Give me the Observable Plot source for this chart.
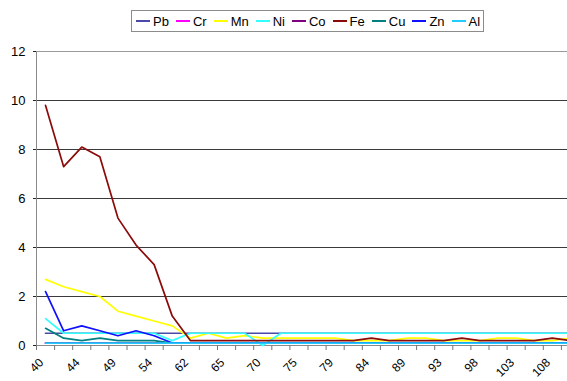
<!DOCTYPE html>
<html>
<head>
<meta charset="utf-8">
<script src="https://cdn.jsdelivr.net/npm/d3@7"></script>
<script src="https://cdn.jsdelivr.net/npm/@observablehq/plot@0.6"></script>
<style>
  body { margin: 0; background: #fff; overflow: hidden; font-family: "Liberation Sans", Arial, sans-serif; }
  #wrap { position: relative; width: 567px; height: 381px; }
  #legend {
    position: absolute; left: 131px; top: 10px; height: 20px;
    border: 1px solid #8c8c8c; background: #fff;
    display: flex; align-items: center; padding: 0 3px 0 4px;
    font-size: 13px; color: #000;
  }
  .item { display: flex; align-items: center; margin-right: 7px; }
  .item:last-child { margin-right: 0; }
  .sw { width: 14px; height: 0; border-top: 2px solid; margin-right: 3px; }
</style>
</head>
<body>
<div id="wrap"><div id="legend"></div></div>
<script>
// Sampling depths (category axis); only every other one is labelled
const depths = ["40","42","44","47","49","52","54","58","62","64","65","68","70","73","75",
                "77","79","82","84","87","89","91","93","96","98","101","103","106","108","110"];

// Concentrations per element, one value per depth
const Pb = [0.5,0.5,0.5,0.5,0.5,0.5,0.5,0.5,0.5,0.5,0.5,0.5,0.5,0.5,0.5,
            0.5,0.5,0.5,0.5,0.5,0.5,0.5,0.5,0.5,0.5,0.5,0.5,0.5,0.5,0.5];
const Cr = [0.1,0.1,0.1,0.1,0.1,0.1,0.1,0.1,0.1,0.1,0.1,0.1,0.1,0.1,0.1,
            0.1,0.1,0.1,0.1,0.1,0.1,0.1,0.1,0.1,0.1,0.1,0.1,0.1,0.1,0.1];
const Mn = [2.7,2.4,2.2,2.0,1.4,1.2,1.0,0.8,0.3,0.5,0.3,0.4,0.3,0.3,0.3,
            0.3,0.3,0.2,0.2,0.2,0.3,0.3,0.2,0.2,0.2,0.3,0.3,0.2,0.2,0.3];
const Ni = [1.1,0.5,0.5,0.5,0.5,0.5,0.5,0.2,0.5,0.5,0.5,0.5,0.0,0.5,0.5,
            0.5,0.5,0.5,0.5,0.5,0.5,0.5,0.5,0.5,0.5,0.5,0.5,0.5,0.5,0.5];
const Co = [0.1,0.1,0.1,0.1,0.1,0.1,0.1,0.1,0.1,0.1,0.1,0.1,0.1,0.1,0.1,
            0.1,0.1,0.1,0.1,0.1,0.1,0.1,0.1,0.1,0.1,0.1,0.1,0.1,0.1,0.1];
const Fe = [9.8,7.3,8.1,7.7,5.2,4.1,3.3,1.2,0.2,0.2,0.2,0.2,0.2,0.2,0.2,
            0.2,0.2,0.2,0.3,0.2,0.2,0.2,0.2,0.3,0.2,0.2,0.2,0.2,0.3,0.2];
const Cu = [0.7,0.3,0.2,0.3,0.2,0.2,0.2,0.1,0.1,0.1,0.1,0.1,0.1,0.1,0.1,
            0.1,0.1,0.1,0.1,0.1,0.1,0.1,0.1,0.1,0.1,0.1,0.1,0.1,0.1,0.1];
const Zn = [2.2,0.6,0.8,0.6,0.4,0.6,0.4,0.1,0.1,0.1,0.1,0.1,0.1,0.1,0.1,
            0.1,0.1,0.1,0.1,0.1,0.1,0.1,0.1,0.1,0.1,0.1,0.1,0.1,0.1,0.1];
const Al = [0.1,0.1,0.1,0.1,0.1,0.1,0.1,0.1,0.1,0.1,0.1,0.1,0.1,0.1,0.1,
            0.1,0.1,0.1,0.1,0.1,0.1,0.1,0.1,0.1,0.1,0.1,0.1,0.1,0.1,0.1];

const names  = ["Pb", "Cr", "Mn", "Ni", "Co", "Fe", "Cu", "Zn", "Al"];
const values = [Pb, Cr, Mn, Ni, Co, Fe, Cu, Zn, Al];
const colors = ["#4a4aa8", "#ff00ff", "#ffff00", "#33ffff", "#800080", "#8b0a0a", "#008080", "#1010ff", "#22ccff"];

const yTicks = [0, 2, 4, 6, 8, 10, 12];

// One row per (element, depth index)
const series = names.map((name, k) => ({
  name, color: colors[k],
  rows: values[k].map((v, i) => ({name, i, depth: depths[i], v}))
}));

const labelIdx = depths.map((d, i) => i).filter(i => i % 2 === 0);
const boundaries = depths.map((d, i) => i - 0.5);

const chart = Plot.plot({
  width: 567,
  height: 381,
  marginLeft: 36,
  marginRight: 0,
  marginTop: 51,
  marginBottom: 36,
  style: {fontFamily: '"Liberation Sans", Arial, sans-serif', fontSize: "13px", background: "#fff", overflow: "hidden"},
  x: {type: "linear", domain: [-0.5, depths.length - 0.5], range: [36, 579]},
  y: {domain: [0, 12]},
  marks: [
    Plot.ruleY(yTicks.filter(t => t > 0 && t < 12), {stroke: "#3a3a3a", strokeWidth: 1}),
    Plot.ruleY([12], {stroke: "#9a9a9a"}),
    Plot.ruleX([-0.5], {stroke: "#8a8a8a"}),
    Plot.ruleY([0], {stroke: "#8a8a8a"}),
    Plot.axisY({ticks: yTicks, tickSize: 3, tickPadding: 8, stroke: "#222", fill: "#000", label: null}),
    Plot.axisX({ticks: boundaries, tickSize: 5, tickFormat: () => "", stroke: "#777", label: null}),
    Plot.axisX({ticks: labelIdx, tickSize: 0, tickPadding: 15, dx: -4, tickRotate: -45, fontSize: 12,
                tickFormat: i => depths[i], fill: "#000", label: null}),
    ...series.map(s => Plot.line(s.rows, {x: "i", y: "v", stroke: s.color, strokeWidth: 1.7}))
  ]
});

document.getElementById("wrap").prepend(chart);

// Legend box above the plot
const legend = document.getElementById("legend");
series.forEach(s => {
  const item = document.createElement("div");
  item.className = "item";
  const sw = document.createElement("span");
  sw.className = "sw";
  sw.style.borderColor = s.color;
  const label = document.createElement("span");
  label.textContent = s.name;
  item.append(sw, label);
  legend.append(item);
});
</script>
</body>
</html>
